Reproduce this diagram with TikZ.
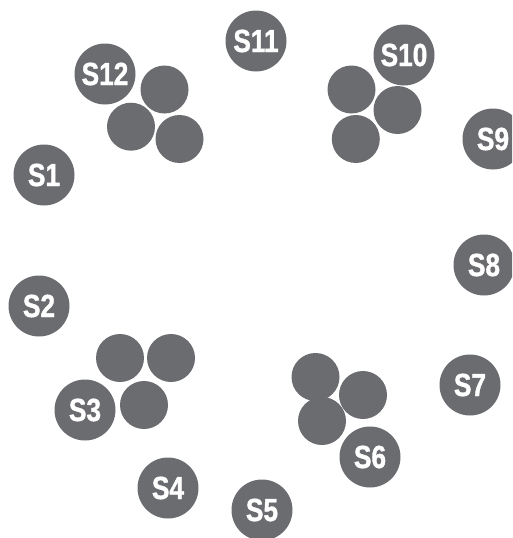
\documentclass[tikz,border=0pt]{standalone}
\usepackage{fontspec}
\setmainfont{Liberation Sans}[FakeStretch=0.82,FakeBold=1.2]
\definecolor{dot}{HTML}{6B6C70}
\begin{document}
\begin{tikzpicture}[x=1pt,y=-1pt,
  lab/.style={circle,fill=dot,minimum size=61pt,inner sep=0pt,text=white,
    font=\fontsize{32}{32}\selectfont\bfseries},
  plain/.style={circle,fill=dot,minimum size=48pt,inner sep=0pt}]
\clip (0,0) rectangle (512,538);
\useasboundingbox (0,0) rectangle (512,538);
% labelled circles
\node[lab] (s1)  at (44,175)   {S1};
\node[lab] (s2)  at (39,306)   {S2};
\node[lab] (s3)  at (85,410)   {S3};
\node[lab] (s4)  at (168,488)  {S4};
\node[lab] (s5)  at (262,510)  {S5};
\node[lab] (s6)  at (370,457)  {S6};
\node[lab] (s7)  at (470,385)  {S7};
\node[lab] (s8)  at (484,265)  {S8};
\node[lab] (s9)  at (493,139)  {S9};
\node[lab] (s10) at (404,55)   {S10};
\node[lab] (s11) at (256,41)   {S11};
\node[lab] (s12) at (105,74)   {S12};
% clusters
\node[plain] (a1) at (164.5,89.5) {};
\node[plain] (a2) at (131,126.7) {};
\node[plain] (a3) at (179.5,139) {};
\node[plain] (b1) at (351.5,89.5) {};
\node[plain] (b2) at (397.5,110) {};
\node[plain] (b3) at (355.8,139) {};
\node[plain] (c1) at (120,358) {};
\node[plain] (c2) at (171,358) {};
\node[plain] (c3) at (144,405) {};
\node[plain] (d1) at (315.5,377) {};
\node[plain] (d2) at (363,395) {};
\node[plain] (d3) at (322,421) {};
\end{tikzpicture}
\end{document}
